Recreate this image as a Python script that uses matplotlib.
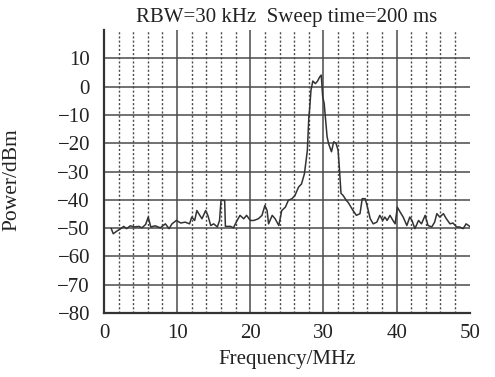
import matplotlib
matplotlib.use("Agg")
import matplotlib.pyplot as plt
import numpy as np

freq_mhz = [1.0, 1.27, 1.8, 2.3, 2.7, 3.1, 3.6, 4.1, 4.8, 5.2, 5.7, 6.05, 6.4, 7.0, 7.7,
            8.4, 8.9, 9.3, 9.9, 10.5, 11.1, 11.7, 12.0, 12.4, 12.7, 13.1, 13.4, 13.9, 14.2,
            14.6, 15.0, 15.5, 15.8, 16.0, 16.5, 16.6, 17.3, 17.7, 18.2, 18.6, 19.1, 19.5,
            20.0, 20.5, 21.1, 21.6, 22.0, 22.3, 22.5, 23.0, 23.4, 23.9, 24.3, 24.8, 25.2,
            25.7, 26.1, 26.6, 27.0, 27.4, 27.6, 27.8, 28.0, 28.1, 28.3, 28.55, 28.9, 29.2,
            29.5, 29.7, 29.9, 30.1, 30.5, 30.7, 31.1, 31.4, 31.7, 32.0, 32.2, 32.4, 32.7,
            33.1, 33.4, 34.0, 34.5, 35.0, 35.3, 35.7, 35.9, 36.4, 36.8, 37.3, 37.7, 38.1,
            38.4, 38.7, 39.1, 39.5, 39.8, 40.1, 40.5, 40.9, 41.4, 41.8, 42.1, 42.5, 43.0,
            43.4, 43.9, 44.3, 44.8, 45.2, 45.5, 45.9, 46.4, 46.8, 47.3, 47.7, 48.2, 48.6,
            49.1, 49.5, 50.0]
power_dbm = [-50.2, -52.0, -51.0, -50.2, -49.4, -50.2, -49.2, -49.6, -49.4, -49.9, -48.7,
             -46.1, -49.6, -49.2, -49.9, -48.5, -50.2, -48.5, -47.3, -48.2, -47.9, -48.5,
             -46.1, -47.3, -43.8, -45.5, -46.7, -43.8, -45.5, -49.1, -48.5, -49.6, -47.3,
             -40.2, -40.2, -49.4, -49.4, -49.9, -47.3, -45.5, -46.7, -45.5, -47.3, -47.3,
             -46.7, -45.5, -42.0, -43.8, -48.5, -45.5, -46.7, -49.1, -43.8, -42.6, -40.2,
             -39.6, -38.5, -35.5, -34.4, -30.8, -26.7, -22.6, -11.0, -8.3, -1.2, 2.0, 1.1,
             2.0, 3.5, 4.1, -3.6, -5.9, -17.7, -20.1, -23.0, -19.5, -19.9, -22.4, -29.5,
             -37.7, -38.5, -40.1, -41.0, -43.6, -45.5, -44.9, -39.6, -39.6, -41.4, -46.7,
             -48.5, -47.9, -45.5, -47.3, -46.1, -47.3, -45.5, -47.3, -48.5, -42.6, -44.4,
             -46.1, -49.1, -46.1, -47.3, -50.2, -47.3, -48.5, -45.5, -49.1, -49.6, -47.9,
             -44.9, -46.1, -44.9, -46.7, -48.5, -48.2, -49.6, -49.6, -50.2, -48.5, -49.4]

x_ticks = [0, 10, 20, 30, 40, 50]
y_ticks = [-80, -70, -60, -50, -40, -30, -20, -10, 0, 10]
minor_x = [v for v in range(2, 50, 2) if v % 10 != 0]

plt.rcParams['font.family'] = ['Liberation Serif', 'DejaVu Serif']
plt.rcParams['axes.unicode_minus'] = True

fig = plt.figure(figsize=(4.95, 3.77), dpi=100)
ax = fig.add_axes([0.210, 0.170, 0.739, 0.750])

gc = '#4a4a4a'
for v in minor_x:
    ax.axvline(v, color=gc, lw=1.0, ls=(0, (1.5, 1.5)), zorder=1)
for v in x_ticks[1:-1]:
    ax.axvline(v, color=gc, lw=1.1, zorder=1)
for v in y_ticks:
    ax.axhline(v, color=gc, lw=1.1, zorder=1)

ax.plot(freq_mhz, power_dbm, color='#333333', lw=1.1, zorder=3)

ax.set_xlim(0, 50)
ax.set_ylim(-80, 20)
ax.set_xticks(x_ticks)
ax.set_yticks(y_ticks)
ax.tick_params(axis='y', length=0, labelsize=15, colors='#222222', pad=10)
ax.tick_params(axis='x', length=0, labelsize=15, colors='#222222', pad=8)
for s in ['top', 'right']:
    ax.spines[s].set_visible(False)
for s in ['left', 'bottom']:
    ax.spines[s].set_linewidth(1.6)
    ax.spines[s].set_color('#333333')

ax.set_xlabel('Frequency/MHz', fontsize=15, color='#222222', labelpad=5)
ax.set_ylabel('Power/dBm', fontsize=15.5, color='#222222')
ax.yaxis.set_label_coords(-0.225, 0.47)
ax.set_title('RBW=30 kHz  Sweep time=200 ms', fontsize=15, color='#222222', pad=6)

fig.savefig('out.png', dpi=100)
